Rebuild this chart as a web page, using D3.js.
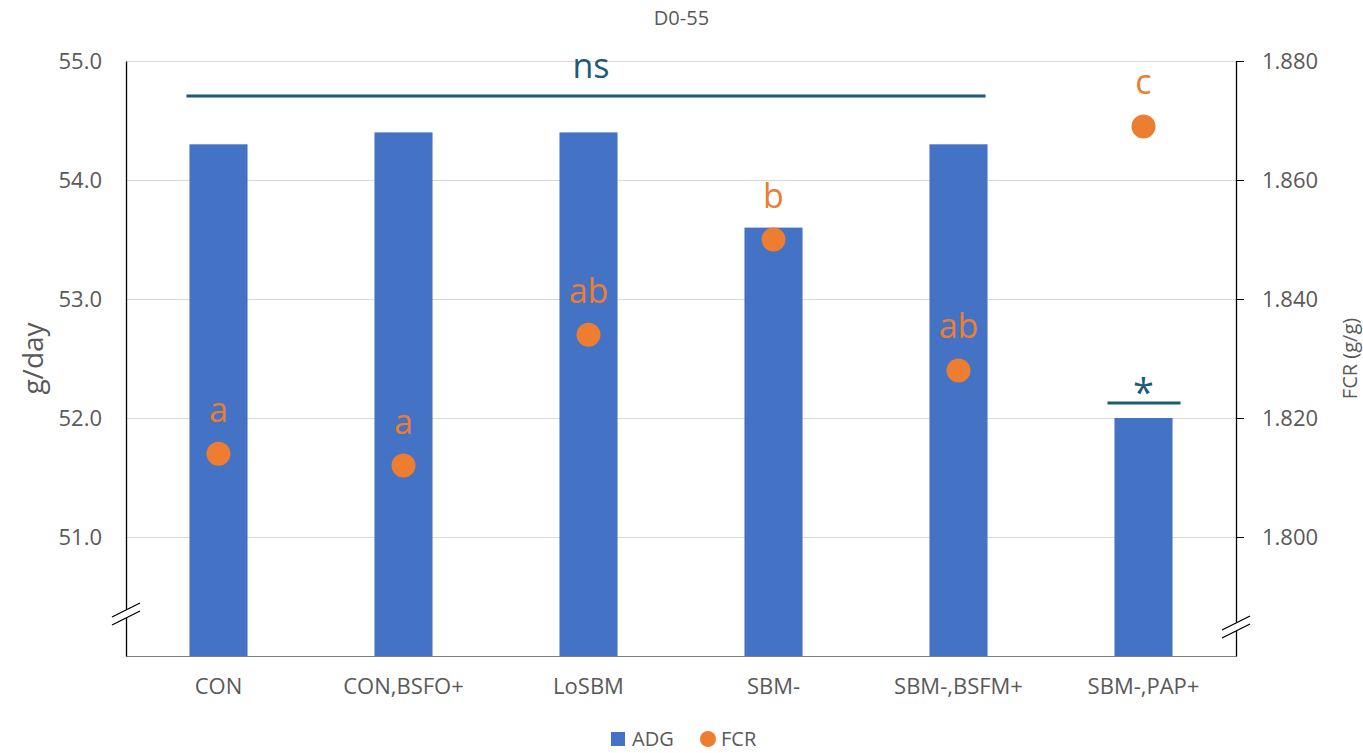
<!DOCTYPE html>
<html>
<head>
<meta charset="utf-8">
<script src="https://cdn.jsdelivr.net/npm/d3@7"></script>
<style>
  body { margin: 0; background: #fff; }
  svg text { font-family: "Open Sans", "Noto Sans", sans-serif; }
</style>
</head>
<body>
<div id="chart"></div>
<script>
var categories = ['CON', 'CON,BSFO+', 'LoSBM', 'SBM-', 'SBM-,BSFM+', 'SBM-,PAP+']
var adgValues = [54.3, 54.4, 54.4, 53.6, 54.3, 52.0]
var fcrValues = [1.814, 1.812, 1.834, 1.850, 1.828, 1.869]
var fcrLetters = ['a', 'a', 'ab', 'b', 'ab', 'c']
var leftTicks = [51, 52, 53, 54, 55]
var rightTicks = [1.80, 1.82, 1.84, 1.86, 1.88]

var width = 1363
var height = 753
var margin = {top: 61, right: 127, bottom: 97, left: 126}

var svg = d3.select('#chart')
  .append('svg')
  .attr('width', width)
  .attr('height', height)

var x = d3.scaleBand()
  .domain(categories)
  .range([margin.left, width - margin.right])
  .paddingInner(0.686)
  .paddingOuter(0.343)

var yLeft = d3.scaleLinear()
  .domain([50, 55])
  .range([height - margin.bottom, margin.top])

var yRight = d3.scaleLinear()
  .domain([1.78, 1.88])
  .range([height - margin.bottom, margin.top])

var blue = '#4472C4'
var orange = '#ED7D31'
var teal = '#1D5A78'
var grey = '#595959'

// grid
svg.append('g')
  .attr('transform', `translate(${margin.left},0)`)
  .call(d3.axisLeft(yLeft).tickValues(leftTicks).tickSize(-(width - margin.left - margin.right)).tickFormat(''))
  .call(g => g.select('.domain').remove())
  .selectAll('line')
  .attr('stroke', '#d9d9d9')
  .attr('stroke-width', 1)

// bars
svg.selectAll('.bar')
  .data(categories)
  .enter()
  .append('rect')
  .attr('class', 'bar')
  .attr('x', d => x(d))
  .attr('width', x.bandwidth())
  .attr('y', (d, i) => yLeft(adgValues[i]))
  .attr('height', (d, i) => yLeft(50) - yLeft(adgValues[i]))
  .attr('fill', blue)

// bottom axis
var xAxis = svg.append('g')
  .attr('transform', `translate(0,${height - margin.bottom})`)
  .call(d3.axisBottom(x).tickSize(0).tickPadding(22))
xAxis.select('.domain').attr('stroke', '#7f7f7f')
xAxis.selectAll('text')
  .style('font-size', '22px')
  .attr('fill', grey)

// left axis
var leftAxis = svg.append('g')
  .attr('transform', `translate(${margin.left},0)`)
  .call(d3.axisLeft(yLeft).tickValues(leftTicks).tickSize(0).tickPadding(24).tickFormat(d3.format('.1f')))
leftAxis.select('.domain').attr('stroke', '#000').attr('stroke-width', 1.3)
leftAxis.selectAll('text')
  .style('font-size', '22px')
  .attr('fill', grey)

// right axis
var rightAxis = svg.append('g')
  .attr('transform', `translate(${width - margin.right},0)`)
  .call(d3.axisRight(yRight).tickValues(rightTicks).tickSize(8).tickSizeOuter(0).tickPadding(18).tickFormat(d3.format('.3f')))
rightAxis.select('.domain').attr('stroke', '#000').attr('stroke-width', 1.3)
rightAxis.selectAll('line').attr('stroke', '#000')
rightAxis.selectAll('text')
  .style('font-size', '22px')
  .attr('fill', grey)

// FCR dots
svg.selectAll('.dot')
  .data(categories)
  .enter()
  .append('circle')
  .attr('class', 'dot')
  .attr('cx', d => x(d) + x.bandwidth() / 2)
  .attr('cy', (d, i) => yRight(fcrValues[i]))
  .attr('r', 12)
  .attr('fill', orange)

svg.selectAll('.letter')
  .data(categories)
  .enter()
  .append('text')
  .attr('class', 'letter')
  .attr('x', d => x(d) + x.bandwidth() / 2)
  .attr('y', (d, i) => yRight(fcrValues[i]) - 32)
  .attr('text-anchor', 'middle')
  .style('font-size', '34px')
  .attr('fill', orange)
  .text((d, i) => fcrLetters[i])

// significance markers
var nsX1 = x('CON') - 3
var nsX2 = x('SBM-,BSFM+') + x.bandwidth() - 2
svg.append('line')
  .attr('x1', nsX1).attr('x2', nsX2)
  .attr('y1', 96).attr('y2', 96)
  .attr('stroke', teal).attr('stroke-width', 3)
svg.append('text')
  .attr('x', (nsX1 + nsX2) / 2 + 5)
  .attr('y', 78)
  .attr('text-anchor', 'middle')
  .style('font-size', '34px')
  .attr('fill', teal)
  .text('ns')

svg.append('line')
  .attr('x1', x('SBM-,PAP+') - 7).attr('x2', x('SBM-,PAP+') + x.bandwidth() + 8)
  .attr('y1', yLeft(52) - 15).attr('y2', yLeft(52) - 15)
  .attr('stroke', teal).attr('stroke-width', 3)
svg.append('text')
  .attr('x', x('SBM-,PAP+') + x.bandwidth() / 2)
  .attr('y', yLeft(52) - 12)
  .attr('text-anchor', 'middle')
  .style('font-size', '38px')
  .attr('fill', teal)
  .text('*')

// axis breaks
function drawBreak(cx, cy) {
  var g = svg.append('g').attr('transform', `translate(${cx},${cy})`)
  g.append('polygon')
    .attr('points', '-14,3 14,-11 14,-3 -14,11')
    .attr('fill', '#fff')
  g.append('line').attr('x1', -14).attr('y1', 3).attr('x2', 14).attr('y2', -11)
    .attr('stroke', '#000').attr('stroke-width', 1.3)
  g.append('line').attr('x1', -14).attr('y1', 11).attr('x2', 14).attr('y2', -3)
    .attr('stroke', '#000').attr('stroke-width', 1.3)
}
drawBreak(margin.left, 614)
drawBreak(width - margin.right, 627)

// titles
svg.append('text')
  .attr('x', width / 2)
  .attr('y', 25)
  .attr('text-anchor', 'middle')
  .style('font-size', '20px')
  .attr('fill', grey)
  .text('D0-55')

svg.append('text')
  .attr('transform', `translate(43,${(margin.top + height - margin.bottom) / 2}) rotate(-90)`)
  .attr('text-anchor', 'middle')
  .style('font-size', '28px')
  .attr('fill', grey)
  .text('g/day')

svg.append('text')
  .attr('transform', `translate(1357,${(margin.top + height - margin.bottom) / 2}) rotate(-90)`)
  .attr('text-anchor', 'middle')
  .style('font-size', '20px')
  .attr('fill', grey)
  .text('FCR (g/g)')

// legend
var legend = svg.append('g').attr('transform', 'translate(611,739)')
legend.append('rect').attr('x', 0).attr('y', -7).attr('width', 14).attr('height', 14).attr('fill', blue)
legend.append('text').attr('x', 21).attr('y', 7).style('font-size', '20px').attr('fill', grey).text('ADG')
legend.append('circle').attr('cx', 97).attr('cy', 0).attr('r', 8).attr('fill', orange)
legend.append('text').attr('x', 110).attr('y', 7).style('font-size', '20px').attr('fill', grey).text('FCR')
</script>
</body>
</html>
